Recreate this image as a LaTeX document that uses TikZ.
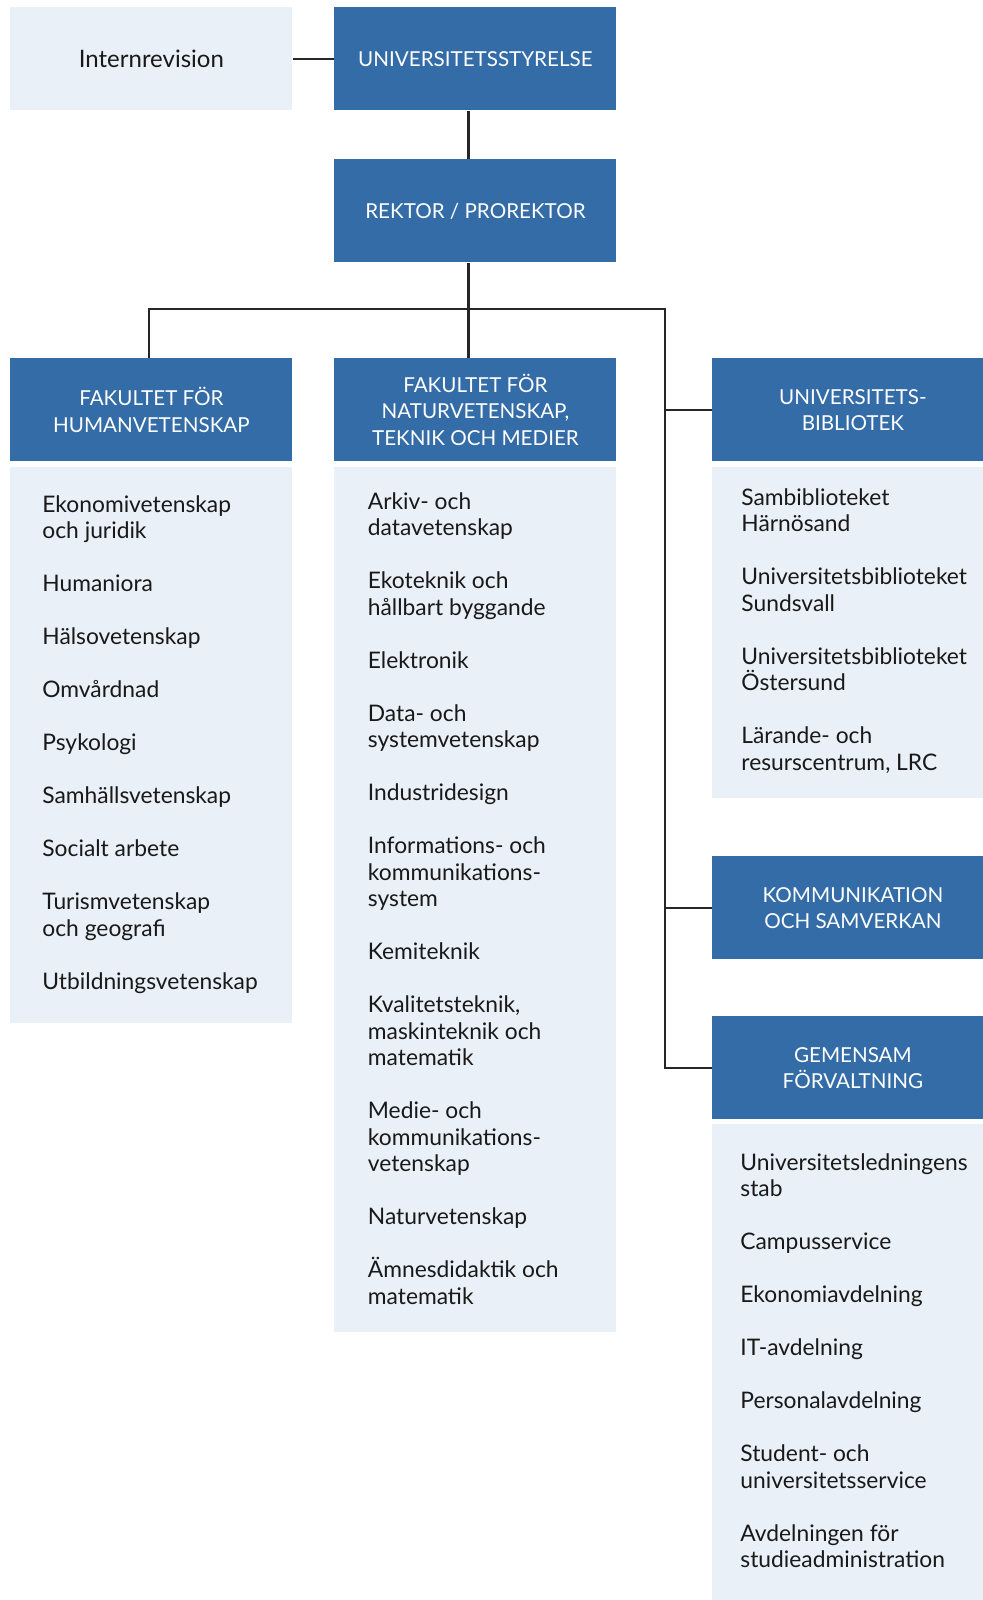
\documentclass[tikz,border=0pt]{standalone}
\usepackage{fontspec}
\setmainfont{Lato}
\usepackage{tikz}
\definecolor{miunblue}{RGB}{51,108,166}
\definecolor{miunlight}{RGB}{234,240,247}
\definecolor{miuntext}{RGB}{25,25,25}

\begin{document}
\begin{tikzpicture}[
    x=0.5pt,y=-0.5pt,
    head/.style={fill=miunblue, text=white, anchor=north west, inner sep=0pt,
      minimum width=141pt, minimum height=51.5pt, align=center,
      font=\fontsize{10.3}{13.25}\selectfont},
    body/.style={fill=miunlight, anchor=north west, inner sep=0pt, minimum width=141pt},
    list/.style={anchor=north west, align=left, inner sep=0pt, text=miuntext,
      font=\fontsize{11.4}{13.25}\selectfont},
    line/.style={line width=1.1pt, black!85}
    ]
    \useasboundingbox (0,0) rectangle (983,1600);
    \clip (0,0) rectangle (983,1600);
    % top
    \node[head, fill=miunlight, text=miuntext, font=\fontsize{12}{13.25}\selectfont] (intern) at (10,7) {Internrevision};
    \node[head] (styrelse) at (334,7) {UNIVERSITETSSTYRELSE};
    \node[head] (rektor) at (334,159) {REKTOR / PROREKTOR};
    % faculties
    \node[head] (humhead) at (10,358) {FAKULTET FÖR\\HUMANVETENSKAP};
    \node[body, minimum height=278pt] (humbody) at (10,467) {};
    \node[head] (nathead) at (334,358) {FAKULTET FÖR\\NATURVETENSKAP,\\TEKNIK OCH MEDIER};
    \node[body, minimum height=432.5pt] (natbody) at (334,467) {};
    % right column
    \node[head] (bibhead) at (711.5,358) {UNIVERSITETS-\\BIBLIOTEK};
    \node[body, minimum height=165.5pt] (bibbody) at (711.5,467) {};
    \node[head] (komm) at (711.5,856) {KOMMUNIKATION\\OCH SAMVERKAN};
    \node[head] (gemhead) at (711.5,1016) {GEMENSAM\\FÖRVALTNING};
    \node[body, minimum height=240pt] (gembody) at (711.5,1124) {};
    % lists (top of first line = baseline - strut height)
    \node[list] (humlist) at (42,493.5) {\strut Ekonomivetenskap\\och juridik\\[13.25pt]
      Humaniora\\[13.25pt]Hälsovetenskap\\[13.25pt]Omvårdnad\\[13.25pt]
      Psykologi\\[13.25pt]Samhällsvetenskap\\[13.25pt]Socialt arbete\\[13.25pt]
      Turismvetenskap\\och geografi\\[13.25pt]Utbildningsvetenskap};
    \node[list] (natlist) at (367.5,490.5) {\strut Arkiv- och\\datavetenskap\\[13.25pt]
      Ekoteknik och\\hållbart byggande\\[13.25pt]Elektronik\\[13.25pt]
      Data- och\\systemvetenskap\\[13.25pt]Industridesign\\[13.25pt]
      Informations- och\\kommunikations-\\system\\[13.25pt]Kemiteknik\\[13.25pt]
      Kvalitetsteknik,\\maskinteknik och\\matematik\\[13.25pt]
      Medie- och\\kommunikations-\\vetenskap\\[13.25pt]Naturvetenskap\\[13.25pt]
      Ämnesdidaktik och\\matematik};
    \node[list] (biblist) at (741,486.5) {\strut Sambiblioteket\\Härnösand\\[13.25pt]
      Universitetsbiblioteket\\Sundsvall\\[13.25pt]
      Universitetsbiblioteket\\Östersund\\[13.25pt]
      Lärande- och\\resurscentrum, LRC};
    \node[list] (gemlist) at (740,1151.5) {\strut Universitetsledningens\\stab\\[13.25pt]
      Campusservice\\[13.25pt]Ekonomiavdelning\\[13.25pt]IT-avdelning\\[13.25pt]
      Personalavdelning\\[13.25pt]Student- och\\universitetsservice\\[13.25pt]
      Avdelningen för\\studieadministration};
    % connectors
    \coordinate (split) at (468.5,309);
    \coordinate (rtrunk) at (665,309);
    \draw[line] (intern) -- (styrelse);
    \draw[line] (styrelse.south -| split) -- (rektor.north -| split);
    \draw[line] (rektor.south -| split) -- (nathead.north -| split);
    \draw[line] ([xshift=-1.25pt]humhead.north) |- (rtrunk) |- (gemhead.west);
    \draw[line] (rtrunk |- bibhead.west) -- (bibhead.west);
    \draw[line] (rtrunk |- komm.west) -- (komm.west);
\end{tikzpicture}
\end{document}
